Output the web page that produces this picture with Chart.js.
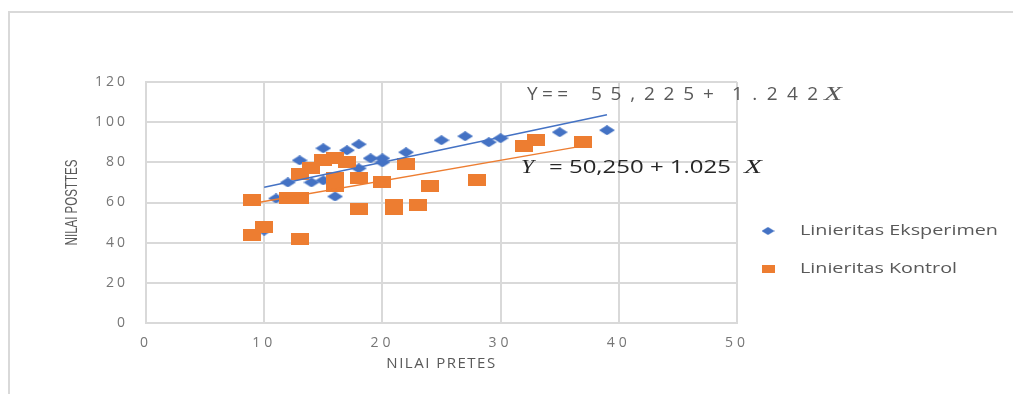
<!DOCTYPE html>
<html><head><meta charset="utf-8">
<script src="https://cdn.jsdelivr.net/npm/chart.js@4.4.0/dist/chart.umd.min.js"></script>
<style>
html,body{margin:0;padding:0;background:#fff;overflow:hidden;}
#wrap{position:relative;width:1013px;height:394px;overflow:hidden;background:#fff;}
#frame{position:absolute;left:8px;top:11px;width:1100px;height:500px;border-left:2px solid #d9d9d9;border-top:2px solid #d9d9d9;}
canvas{position:absolute;left:0;top:0;}
</style></head><body>
<div id="wrap"><div id="frame"></div><canvas id="c" width="1013" height="394"></canvas></div>
<script>
// ---- data ----
const xTicks = [0, 10, 20, 30, 40, 50];
const yTicks = [0, 20, 40, 60, 80, 100, 120];
const seriesNames = ['Linieritas Eksperimen', 'Linieritas Kontrol'];
const xTitle = 'NILAI PRETES';
const yTitle = 'NILAI POSTTES';

const expX = [10, 11, 12, 13, 14, 15, 15, 16, 17, 18, 18, 19, 20, 20, 22, 25, 27, 29, 30, 35, 39];
const expY = [46, 62, 70, 81, 70, 87, 71, 63, 86, 89, 77, 82, 82, 80, 85, 91, 93, 90, 92, 95, 96];

const ctlX = [9, 9, 10, 12, 13, 13, 13, 14, 15, 16, 16, 16, 17, 18, 18, 20, 21, 21, 22, 23, 24, 28, 32, 33, 37];
const ctlY = [61, 44, 48, 62, 62, 42, 74, 77, 81, 82, 72, 68, 80, 72, 57, 70, 59, 57, 79, 59, 68, 71, 88, 91, 90];

const expTrendX = [10, 39];
const expTrendY = [67.6, 103.7];
const ctlTrendX = [9, 37];
const ctlTrendY = [59.5, 88.2];

const eqExpParts = ['Y==', '55,225', '+', '1.242', 'X'];
const eqCtlParts = ['Y', '= 50,250 + 1.025', 'X'];

// ---- styling ----
const BLUE = '#4472C4', ORANGE = '#ED7D31', GRID = '#d9d9d9', TXT = '#595959', TICK = '#767676';

function diamondImg(w, h, color) {
  const c = document.createElement('canvas'); c.width = w; c.height = h;
  const g = c.getContext('2d'); g.fillStyle = color; g.beginPath();
  g.moveTo(w / 2, 0); g.lineTo(w, h / 2); g.lineTo(w / 2, h); g.lineTo(0, h / 2); g.closePath(); g.fill();
  return c;
}
function rectImg(w, h, color) {
  const c = document.createElement('canvas'); c.width = w; c.height = h;
  const g = c.getContext('2d'); g.fillStyle = color; g.fillRect(0, 0, w, h);
  return c;
}
const blueMark = diamondImg(16, 10, BLUE);
const orangeMark = rectImg(18, 12, ORANGE);

const zip = (xs, ys) => xs.map((x, i) => ({ x: x, y: ys[i] }));

function drawFit(ctx, text, x0, x1, y, font, color) {
  ctx.save(); ctx.font = font; ctx.fillStyle = color; ctx.textBaseline = 'middle'; ctx.textAlign = 'left';
  ctx.letterSpacing = '0px';
  const w = ctx.measureText(text).width;
  ctx.translate(x0, y); ctx.scale((x1 - x0) / w, 1); ctx.fillText(text, 0, 0); ctx.restore();
}
function drawSpaced(ctx, text, x0, x1, y, font, color) {
  ctx.save(); ctx.font = font; ctx.fillStyle = color; ctx.textBaseline = 'middle'; ctx.textAlign = 'left';
  ctx.letterSpacing = '0px';
  const nat = ctx.measureText(text).width; const n = [...text].length;
  const ls = n > 1 ? (x1 - x0 - nat) / (n - 1) : 0;
  ctx.letterSpacing = ls + 'px'; ctx.fillText(text, x0, y); ctx.restore();
}

const spacingPlugin = {
  id: 'spacing',
  beforeDraw(chart) {
    Object.values(chart.scales).forEach(s => {
      if (s._lsPatched) return;
      s._lsPatched = true;
      const origLabels = s.drawLabels.bind(s);
      const origTitle = s.drawTitle.bind(s);
      const lsTicks = s.axis === 'x' ? '4px' : '3px';
      s.drawLabels = function (a) { const c = this.ctx; c.save(); c.letterSpacing = lsTicks; origLabels(a); c.restore(); };
      s.drawTitle = function (a) {
        const c = this.ctx; c.save();
        if (this.axis === 'x') { c.letterSpacing = '1.5px'; }
        else {
          // condensed look of the rotated title: compress along its run
          const cy = (this.top + this.bottom) / 2;
          c.translate(0, cy); c.scale(1, 0.72); c.translate(0, -cy);
        }
        origTitle(a); c.restore();
      };
    });
  },
  afterDraw(chart) {
    const ctx = chart.ctx;
    // regression equations
    const f1 = '19px "Open Sans"';
    drawSpaced(ctx, eqExpParts[0], 527, 568, 95, f1, TXT);
    drawSpaced(ctx, eqExpParts[1], 591, 694, 95, f1, TXT);
    drawSpaced(ctx, eqExpParts[2], 703, 717, 95, f1, TXT);
    drawSpaced(ctx, eqExpParts[3], 732, 818, 95, f1, TXT);
    drawFit(ctx, eqExpParts[4], 824, 842, 95, 'italic 19px "Liberation Serif"', TXT);

    drawFit(ctx, eqCtlParts[0], 521, 534, 168, 'italic 18px "Liberation Serif"', '#262626');
    drawFit(ctx, eqCtlParts[1], 549, 731, 168, '18px "Open Sans"', '#262626');
    drawFit(ctx, eqCtlParts[2], 744, 762, 168, 'italic 18px "Liberation Serif"', '#262626');

    // legend
    ctx.save();
    ctx.drawImage(diamondImg(13, 8, BLUE), 768 - 6.5, 231 - 4);
    ctx.drawImage(rectImg(13, 8, ORANGE), 768 - 6.5, 269 - 4);
    ctx.restore();
    drawFit(ctx, seriesNames[0], 800, 998, 231, '15px "Open Sans"', TXT);
    drawFit(ctx, seriesNames[1], 800, 957, 269, '15px "Open Sans"', TXT);
  }
};

new Chart(document.getElementById('c'), {
  type: 'scatter',
  data: {
    datasets: [
      { label: seriesNames[0], data: zip(expX, expY), pointStyle: blueMark, pointRadius: 8, pointHoverRadius: 8, order: 2, backgroundColor: BLUE, borderColor: BLUE },
      { label: seriesNames[1], data: zip(ctlX, ctlY), pointStyle: orangeMark, pointRadius: 8, pointHoverRadius: 8, order: 1, backgroundColor: ORANGE, borderColor: ORANGE },
      { label: 'trend-exp', data: zip(expTrendX, expTrendY), showLine: true, pointRadius: 0, borderColor: BLUE, borderWidth: 1.5, order: 0, fill: false },
      { label: 'trend-ctl', data: zip(ctlTrendX, ctlTrendY), showLine: true, pointRadius: 0, borderColor: ORANGE, borderWidth: 1.5, order: 0, fill: false }
    ]
  },
  options: {
    responsive: false,
    animation: false,
    devicePixelRatio: 1,
    layout: { padding: { left: 0, top: 82, right: 276, bottom: 0 } },
    plugins: { legend: { display: false }, tooltip: { enabled: false } },
    scales: {
      x: {
        type: 'linear', min: xTicks[0], max: xTicks[xTicks.length - 1],
        ticks: { stepSize: xTicks[1] - xTicks[0], padding: 12, color: TICK, font: { family: 'Open Sans', size: 14 }, maxRotation: 0 },
        grid: { color: GRID, lineWidth: 2, drawTicks: false },
        border: { color: GRID, width: 2 },
        title: { display: true, text: xTitle, color: TXT, font: { family: 'Open Sans', size: 15 }, padding: { top: 0, bottom: 21 } },
        afterFit(s) { s.height = 71; }
      },
      y: {
        type: 'linear', min: yTicks[0], max: yTicks[yTicks.length - 1],
        ticks: { stepSize: yTicks[1] - yTicks[0], padding: 18, color: TICK, font: { family: 'Open Sans', size: 14 } },
        grid: { color: GRID, lineWidth: 2, drawTicks: false },
        border: { color: GRID, width: 2 },
        title: { display: true, text: yTitle, color: TXT, font: { family: '"Liberation Sans Narrow", "Liberation Sans"', size: 16 }, padding: { top: 63, bottom: 0 } },
        afterFit(s) { s.width = 146; }
      }
    }
  },
  plugins: [spacingPlugin]
});
</script>
</body></html>
